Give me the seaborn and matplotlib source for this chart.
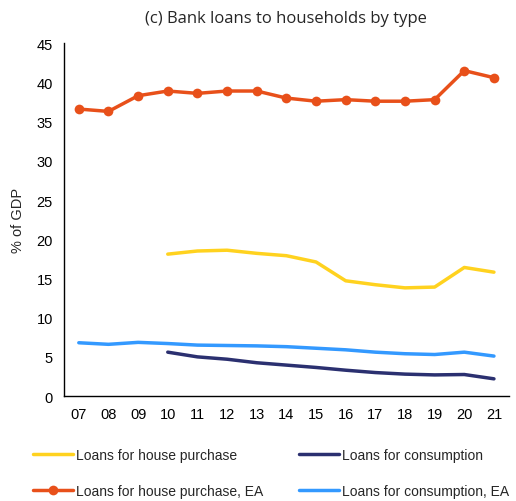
import numpy as np
import pandas as pd
import matplotlib
matplotlib.use("Agg")
import matplotlib.pyplot as plt
import seaborn as sns

sns.set_theme(style="white")
plt.rcParams["font.family"] = ["Liberation Sans", "DejaVu Sans"]

# ── data ──────────────────────────────────────────────
years = ["07", "08", "09", "10", "11", "12", "13", "14", "15",
         "16", "17", "18", "19", "20", "21"]
house = [np.nan, np.nan, np.nan, 18.1, 18.5, 18.6, 18.2, 17.9, 17.1,
         14.7, 14.2, 13.8, 13.9, 16.4, 15.8]
consumption = [np.nan, np.nan, np.nan, 5.6, 5.0, 4.7, 4.25, 3.95, 3.65,
               3.3, 3.0, 2.8, 2.7, 2.75, 2.2]
house_ea = [36.6, 36.3, 38.3, 38.9, 38.6, 38.9, 38.9, 38.0, 37.6,
            37.8, 37.6, 37.6, 37.8, 41.5, 40.6]
consumption_ea = [6.8, 6.6, 6.85, 6.7, 6.5, 6.45, 6.4, 6.3, 6.1,
                  5.9, 5.6, 5.4, 5.3, 5.6, 5.1]

df = pd.DataFrame({
    "x": np.arange(len(years)),
    "house": house,
    "consumption": consumption,
    "house_ea": house_ea,
    "consumption_ea": consumption_ea,
})

fig = plt.figure(figsize=(5.16, 5.02), dpi=100)
ax = fig.add_axes([0.124, 0.209, 0.862, 0.703])

sns.lineplot(data=df, x="x", y="house", ax=ax, color="#FFD21F",
             linewidth=2.5, label="Loans for house purchase")
sns.lineplot(data=df, x="x", y="house_ea", ax=ax, color="#E8501A",
             linewidth=2.5, marker="o", markersize=7, markeredgewidth=0,
             label="Loans for house purchase, EA")
sns.lineplot(data=df, x="x", y="consumption", ax=ax, color="#2B3070",
             linewidth=2.5, label="Loans for consumption")
sns.lineplot(data=df, x="x", y="consumption_ea", ax=ax, color="#3399FF",
             linewidth=2.5, label="Loans for consumption, EA")

ax.set_xlim(-0.5, len(years) - 0.5)
ax.set_ylim(0, 45)
ax.set_xticks(df["x"])
ax.set_xticklabels(years)
ax.set_yticks(range(0, 46, 5))
ax.tick_params(axis="both", labelsize=10.5, length=0, pad=8, colors="black")
ax.set_xlabel("")
ax.set_ylabel("% of GDP", fontsize=10.5, labelpad=8)

for s in ["top", "right"]:
    ax.spines[s].set_visible(False)
for s in ["left", "bottom"]:
    ax.spines[s].set_color("black")
    ax.spines[s].set_linewidth(1)

ax.set_title("(c) Bank loans to households by type", fontsize=12,
             family="Open Sans", pad=15)

handles, labels = ax.get_legend_handles_labels()
ax.get_legend().remove()
fig.legend(handles, labels, ncol=2, loc="upper left",
           bbox_to_anchor=(0.039, 0.13), frameon=False, fontsize=10,
           handlelength=2.9, handletextpad=0.2, columnspacing=2.6,
           labelspacing=1.55, borderpad=0.4)

fig.savefig("out.png", dpi=100)
plt.close(fig)
